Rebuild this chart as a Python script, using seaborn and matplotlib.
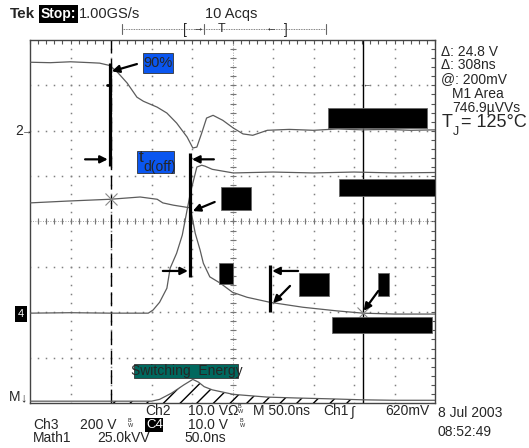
import numpy as np
import pandas as pd
import seaborn as sns
import matplotlib.pyplot as plt
from matplotlib.patches import Rectangle
from matplotlib.lines import Line2D

# Scope traces: time in ns (50 ns/div), level in divisions from bottom
ch2_t = [0, 25, 50, 75, 86, 98, 107, 120, 132, 140, 157, 169, 181, 194, 201, 206, 212, 218,
         226, 238, 251, 263, 275, 293, 320, 350, 380, 410, 440, 470, 500]
ch2_v = [7.51, 7.50, 7.52, 7.50, 7.49, 7.44, 7.31, 7.05, 6.74, 6.65, 6.52, 6.39, 6.17, 5.86,
         5.62, 5.64, 5.95, 6.28, 6.34, 6.23, 6.06, 5.93, 5.90, 6.01, 6.03, 6.01, 6.04, 6.02,
         6.03, 6.01, 6.02]

ch3_t = [0, 46, 99, 136, 157, 164, 177, 191, 198, 204, 210, 214, 222, 235, 250, 268, 296,
         337, 379, 411, 450, 500]
ch3_v = [4.41, 4.45, 4.49, 4.54, 4.49, 4.41, 4.36, 4.32, 4.30, 3.74, 3.37, 3.08, 2.78, 2.64,
         2.44, 2.33, 2.22, 2.11, 2.03, 1.98, 1.96, 1.96]

ch4_t = [0, 50, 100, 146, 152, 160, 169, 173, 181, 188, 198, 206, 212, 216, 225, 251, 300,
         350, 400, 450, 500]
ch4_v = [1.98, 1.99, 1.98, 1.98, 2.05, 2.22, 2.53, 2.97, 3.30, 3.70, 4.63, 5.20, 5.24, 5.22,
         5.15, 5.07, 5.09, 5.07, 5.09, 5.07, 5.08]

math1_t = [0, 50, 100, 150, 160, 175, 190, 201, 208, 215, 225, 251, 293, 330, 374, 411, 450, 500]
math1_v = [0.04, 0.04, 0.04, 0.04, 0.08, 0.22, 0.40, 0.52, 0.46, 0.36, 0.29, 0.19, 0.13,
           0.11, 0.09, 0.07, 0.06, 0.06]

cursor_t = [100, 411]           # dashed / solid time cursors
energy_window = (100, 411)      # integration region of Math1

sns.set_style('white')
plt.rcParams['font.family'] = ['Liberation Sans', 'DejaVu Sans']

W, H = 529, 448
fig = plt.figure(figsize=(W / 100, H / 100), dpi=100)
ax = fig.add_axes([30 / W, 45 / H, 405 / W, 363 / H])


def fx(px):
    return px / W


def fy(py):
    return 1 - py / H


trace_color = '#5c5c5c'
for t, v in [(ch2_t, ch2_v), (ch3_t, ch3_v), (ch4_t, ch4_v), (math1_t, math1_v)]:
    df = pd.DataFrame({'t': t, 'v': v})
    sns.lineplot(data=df, x='t', y='v', ax=ax, color=trace_color, lw=0.9,
                 estimator=None, sort=False, zorder=4)

# hatched switching energy area
mt = np.array(math1_t, dtype=float)
mv = np.array(math1_v)
sel = (mt >= energy_window[0]) & (mt <= energy_window[1])
ax.fill_between(mt[sel], mv[sel], 0, facecolor='none', edgecolor='black', hatch='//', lw=0,
                zorder=3)

ax.set_xlim(0, 500)
ax.set_ylim(0, 8)
ax.set_xlabel('')
ax.set_ylabel('')

# graticule
ax.set_xticks(np.arange(0, 501, 50))
ax.set_xticks(np.arange(0, 501, 10), minor=True)
ax.set_yticks(np.arange(0, 8.01, 1))
ax.set_yticks(np.arange(0, 8.01, 0.2), minor=True)
ax.tick_params(which='both', direction='in', top=True, right=True, length=3, width=0.8,
               color='#555555', labelbottom=False, labelleft=False)
for s in ax.spines.values():
    s.set_color('#444444')
    s.set_linewidth(1.0)

minor_x = np.arange(0, 501, 10)
minor_y = np.arange(0, 8.01, 0.2)
for gx in range(50, 500, 50):
    ax.plot(np.full_like(minor_y, gx), minor_y, ls='none', marker='s', ms=1.1,
            color='#808080', mew=0, zorder=1)
for gy in range(1, 8):
    ax.plot(minor_x, np.full_like(minor_x, gy, dtype=float), ls='none', marker='s', ms=1.1,
            color='#808080', mew=0, zorder=1)
# centre cross with ticks
ax.axhline(4, color='#888888', lw=0.6, ls=(0, (1, 2)), zorder=1)
ax.axvline(250, color='#888888', lw=0.6, ls=(0, (1, 2)), zorder=1)
ax.plot(minor_x, np.full_like(minor_x, 4, dtype=float), ls='none', marker='|', ms=4,
        color='#777777', mew=0.8, zorder=1)
ax.plot(np.full_like(minor_y, 250), minor_y, ls='none', marker='_', ms=4,
        color='#777777', mew=0.8, zorder=1)

# cursors
ax.axvline(cursor_t[0], color='black', lw=1.0, ls=(0, (10, 4)), zorder=2)
ax.axvline(cursor_t[1], color='black', lw=1.0, zorder=2)
ax.plot([cursor_t[0], cursor_t[1]], [4.49, 1.98], ls='none', marker='x', ms=8,
        color='#888888', mew=0.8, zorder=5)
ax.text(415, 7.0, '←', fontsize=6, ha='center', va='center', zorder=6)

# measurement bars
for x, y0, y1 in [(99, 5.22, 7.49), (198, 2.78, 5.51), (296, 2.00, 3.04)]:
    ax.plot([x, x], [y0, y1], color='black', lw=2.3, solid_capstyle='butt', zorder=6)
ax.plot([95, 99], [7.0, 7.0], color='black', lw=2, zorder=6)


def arrow(x0, y0, x1, y1):
    ax.annotate('', xy=(x1, y1), xytext=(x0, y0),
                arrowprops=dict(arrowstyle='-|>', lw=1.6, color='black', mutation_scale=11,
                                shrinkA=0, shrinkB=0), zorder=7)


arrow(132, 7.47, 101, 7.31)
arrow(68, 5.37, 96, 5.37)
arrow(227, 5.37, 200, 5.37)
arrow(228, 4.43, 201, 4.23)
arrow(164, 2.91, 195, 2.91)
arrow(331, 2.91, 299, 2.91)
arrow(321, 2.58, 300, 2.20)
arrow(430, 2.47, 412, 2.03)

# label boxes
for x0, x1, y0, y1 in [(236, 273, 4.25, 4.76), (233, 251, 2.62, 3.08), (332, 369, 2.36, 2.86),
                       (430, 443, 2.36, 2.86), (373, 496, 1.54, 1.89), (381, 500, 4.56, 4.93),
                       (368, 490, 6.06, 6.50)]:
    ax.add_patch(Rectangle((x0, y0), x1 - x0, y1 - y0, facecolor='black', edgecolor='#666666',
                           lw=0.6, zorder=6))

blue = '#0a56f0'
ax.add_patch(Rectangle((139.5, 7.27), 37, 0.44, facecolor=blue, edgecolor='#333333', lw=0.6,
                       zorder=6))
ax.text(158, 7.49, '90%', fontsize=10.5, ha='center', va='center', zorder=7)
ax.add_patch(Rectangle((132, 5.07), 46, 0.48, facecolor=blue, edgecolor='#333333', lw=0.6,
                       zorder=6))
ax.text(134, 5.42, 't', fontsize=12.5, ha='left', va='center', zorder=7)
ax.text(140, 5.21, 'd(off)', fontsize=10, ha='left', va='center', zorder=7)

ax.add_patch(Rectangle((128, 0.55), 129, 0.31, facecolor='#00685e', edgecolor='#333333', lw=0.6,
                       zorder=6))
ax.text(193, 0.70, 'Switching  Energy', fontsize=10, ha='center', va='center', zorder=7)

# header
fig.text(fx(10), fy(14), 'Tek', fontsize=11, fontweight='bold', va='center')
fig.text(fx(41), fy(14), 'Stop:', fontsize=10, fontweight='bold', color='white', va='center',
         bbox=dict(facecolor='black', edgecolor='none', pad=1.2))
fig.text(fx(79), fy(14), '1.00GS/s', fontsize=10.5, va='center')
fig.text(fx(205), fy(14), '10 Acqs', fontsize=10.5, va='center')
fig.add_artist(Line2D([fx(122), fx(326)], [fy(29), fy(29)], color='#555555', lw=0.6,
                      ls=(0, (1, 1))))
for px in [122, 204, 326]:
    fig.add_artist(Line2D([fx(px), fx(px)], [fy(24), fy(34)], color='#666666', lw=0.8))
fig.text(fx(183), fy(30), '[', fontsize=10, va='center')
fig.text(fx(193), fy(27), '→', fontsize=8, va='center')
fig.text(fx(218), fy(29), 'T', fontsize=9, va='center')
fig.text(fx(266), fy(27), '←', fontsize=8, va='center')
fig.text(fx(284), fy(30), ']', fontsize=10, va='center')

# left channel markers
fig.text(fx(15), fy(131), '2', fontsize=10, va='center')
fig.text(fx(22), fy(131), '→', fontsize=7.5, va='center')
fig.text(fx(21), fy(314), '4', fontsize=8, color='white', ha='center', va='center',
         bbox=dict(facecolor='black', edgecolor='none', pad=1.8))
fig.text(fx(9), fy(397), 'M', fontsize=10, va='center')
fig.text(fx(20), fy(398), '↓', fontsize=9, va='center')

# right readout
for py, s in [(52, 'Δ: 24.8 V'), (65, 'Δ: 308ns'), (79, '@: 200mV')]:
    fig.text(fx(441), fy(py), s, fontsize=10, va='center')
fig.text(fx(478), fy(94), 'M1 Area', fontsize=10, ha='center', va='center')
fig.text(fx(486), fy(108), '746.9µVVs', fontsize=10, ha='center', va='center')
fig.text(fx(442), fy(122), 'T', fontsize=13, va='center')
fig.text(fx(453), fy(132), 'J', fontsize=9, va='center')
fig.text(fx(461), fy(122), '= 125°C', fontsize=13, va='center')

# bottom settings
fs = 10
fig.text(fx(145), fy(411), 'Ch2', fontsize=fs, va='center')
fig.text(fx(188), fy(411), '10.0 VΩ', fontsize=fs, va='center')
fig.text(fx(238), fy(409), 'B\nW', fontsize=4, va='center', linespacing=0.8)
fig.text(fx(253), fy(411), 'M 50.0ns', fontsize=fs, va='center')
fig.text(fx(323), fy(411), 'Ch1', fontsize=fs, va='center')
fig.text(fx(351), fy(411), '∫', fontsize=fs, va='center')
fig.text(fx(385), fy(411), '620mV', fontsize=fs, va='center')
fig.text(fx(33), fy(425), 'Ch3', fontsize=fs, va='center')
fig.text(fx(80), fy(425), '200 V', fontsize=fs, va='center')
fig.text(fx(128), fy(423), 'B\nW', fontsize=4, va='center', linespacing=0.8)
fig.text(fx(146), fy(425), 'C4', fontsize=9.5, color='white', va='center',
         bbox=dict(facecolor='black', edgecolor='none', pad=0.4))
fig.text(fx(188), fy(425), '10.0 V', fontsize=fs, va='center')
fig.text(fx(240), fy(423), 'B\nW', fontsize=4, va='center', linespacing=0.8)
fig.text(fx(33), fy(438), 'Math1', fontsize=fs, va='center')
fig.text(fx(97), fy(438), '25.0kVV', fontsize=fs, va='center')
fig.text(fx(184), fy(438), '50.0ns', fontsize=fs, va='center')
fig.text(fx(438), fy(413), '8 Jul 2003', fontsize=fs, va='center')
fig.text(fx(438), fy(432), '08:52:49', fontsize=fs, va='center')

fig.savefig('out.png', dpi=100)
